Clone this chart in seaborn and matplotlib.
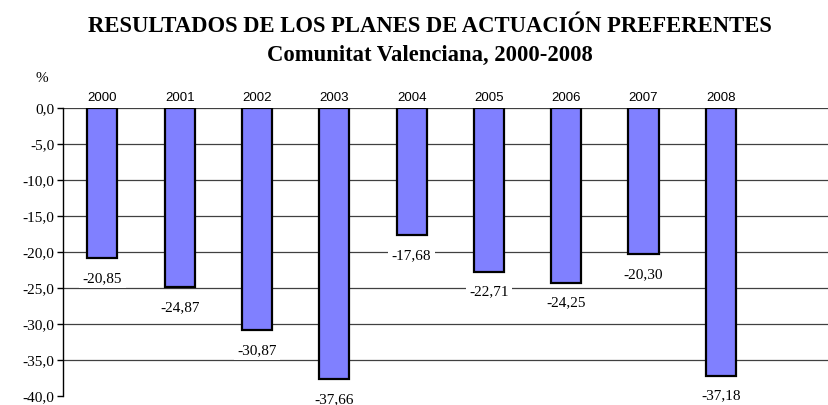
import matplotlib
matplotlib.use("Agg")
import matplotlib.pyplot as plt
import seaborn as sns
import pandas as pd

years = ["2000", "2001", "2002", "2003", "2004", "2005", "2006", "2007", "2008"]
values = [-20.85, -24.87, -30.87, -37.66, -17.68, -22.71, -24.25, -20.30, -37.18]
yticks = [0, -5, -10, -15, -20, -25, -30, -35, -40]
title1 = "RESULTADOS DE LOS PLANES DE ACTUACIÓN PREFERENTES"
title2 = "Comunitat Valenciana, 2000-2008"

sns.set_theme(style="white")
plt.rcParams["font.family"] = ["Liberation Serif", "DejaVu Serif"]
plt.rcParams["text.color"] = "black"
plt.rcParams["xtick.color"] = "black"
plt.rcParams["ytick.color"] = "black"
plt.rcParams["axes.labelcolor"] = "black"

df = pd.DataFrame({"year": years, "value": values})

fig = plt.figure(figsize=(8.29, 4.05), dpi=100)
ax = fig.add_axes([63 / 829, 1 - 396 / 405, 1 - 63 / 829, (396 - 108) / 405])

sns.barplot(data=df, x="year", y="value", color="#8080FF", saturation=1,
            edgecolor="black", linewidth=1.6, width=0.39, ax=ax, zorder=3)

ax.set_xlim(-0.51, 9.4)
ax.set_ylim(-40, 0)
ax.set_yticks(yticks)
ax.set_yticklabels([f"{t:.1f}".replace(".", ",") for t in yticks], fontsize=11)
ax.set_xlabel("")
ax.set_ylabel("")

ax.xaxis.set_ticks_position("top")
ax.tick_params(axis="x", length=0, pad=3)
for lab in ax.get_xticklabels():
    lab.set_fontfamily("Liberation Sans")
    lab.set_fontsize(9.5)
ax.tick_params(axis="y", left=True, length=4, width=1, color="black", pad=2)

ax.set_axisbelow(True)
ax.yaxis.grid(True, color="#404040", linewidth=0.9)
for gl, t in zip(ax.get_ygridlines(), ax.get_yticks()):
    if t <= -40:
        gl.set_visible(False)

for s in ["top", "right", "bottom"]:
    ax.spines[s].set_visible(False)
ax.spines["left"].set_color("black")
ax.spines["left"].set_linewidth(1)

for i, v in enumerate(values):
    ax.annotate(f"{v:.2f}".replace(".", ","), xy=(i, v), xytext=(0, -14.5),
                textcoords="offset points", ha="center", va="center",
                fontsize=11, zorder=5, annotation_clip=False,
                bbox=dict(facecolor="white", edgecolor="none", pad=2.5))

fig.text(0.519, 1 - 27 / 405, title1, ha="center", va="center",
         fontsize=16.3, fontweight="bold", color="black")
fig.text(0.519, 1 - 55 / 405, title2, ha="center", va="center",
         fontsize=16.3, fontweight="bold", color="black")
fig.text(42 / 829, 1 - 78 / 405, "%", ha="center", va="center", fontsize=11)

fig.savefig("out.png", dpi=100)
